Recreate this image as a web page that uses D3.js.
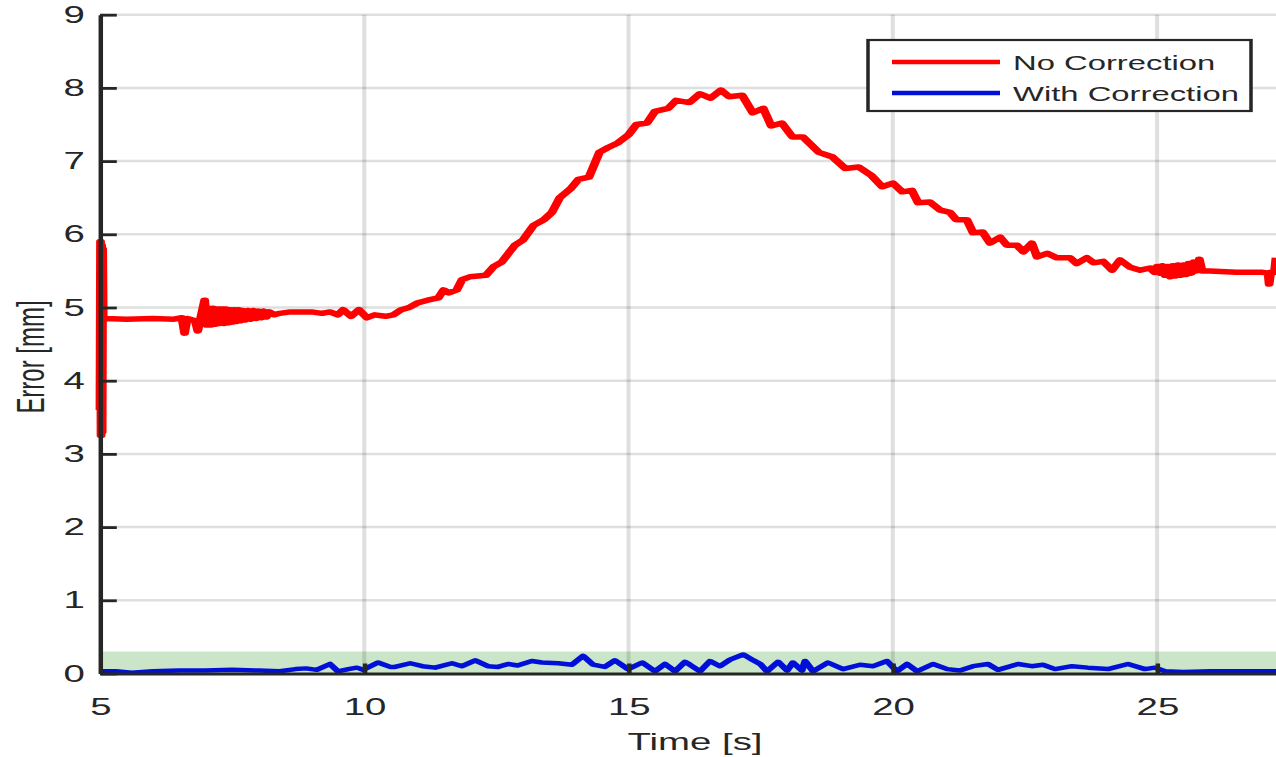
<!DOCTYPE html>
<html>
<head>
<meta charset="utf-8">
<script src="https://cdn.jsdelivr.net/npm/d3@7"></script>
<style>
  body { margin: 0; background: #fff; }
  text { font-family: "Liberation Sans", Arial, Helvetica, sans-serif; fill: #262626; }
</style>
</head>
<body>
<div id="chart"></div>
<script>
// data (time in s, error in mm)
var noCorrT = [5.0, 5.01, 5.02, 5.03, 5.04, 5.05, 5.06, 5.08, 5.1, 5.5, 6.0, 6.4, 6.55,
  6.6, 6.65, 6.8, 6.85, 6.9, 6.98, 7.02, 7.06, 7.1, 7.14, 7.18, 7.22, 7.26, 7.3, 7.34,
  7.38, 7.42, 7.46, 7.5, 7.54, 7.58, 7.62, 7.66, 7.7, 7.75, 7.8, 7.85, 7.9, 7.95, 8.0,
  8.05, 8.1, 8.15, 8.2, 8.3, 8.4, 8.6, 8.8, 9.0, 9.2,
  9.35, 9.5, 9.6, 9.75, 9.9, 10.05, 10.2, 10.4, 10.55, 10.7, 10.85, 11.0, 11.2, 11.4,
  11.5, 11.6, 11.75, 11.85, 12.0, 12.3, 12.45, 12.6, 12.75, 12.85, 13.0, 13.2, 13.4,
  13.55, 13.7, 13.9, 14.05, 14.25, 14.45, 14.6, 14.8, 15.0, 15.15, 15.35, 15.5, 15.75,
  15.9, 16.15, 16.35, 16.55, 16.75, 16.9, 17.15, 17.35, 17.55, 17.7, 17.9, 18.1, 18.3,
  18.6, 18.85, 19.1, 19.35, 19.6, 19.8, 20.0, 20.18, 20.36, 20.48, 20.7, 20.9, 21.08,
  21.2, 21.4, 21.52, 21.7, 21.84, 22.03, 22.16, 22.35, 22.47, 22.63, 22.73, 22.92, 23.1,
  23.35, 23.48, 23.67, 23.8, 23.98, 24.15, 24.3, 24.49, 24.68, 24.87, 24.95, 25.0, 25.05,
  25.1, 25.15, 25.2, 25.25, 25.3, 25.35, 25.4, 25.45, 25.5, 25.55, 25.6, 25.65, 25.7,
  25.75, 25.8, 25.85, 26.0, 26.5, 27.0, 27.1, 27.12, 27.15, 27.22, 27.25];
var noCorrV = [3.6, 5.9, 3.25, 5.85, 3.3, 5.8, 4.85, 4.86, 4.85, 4.84, 4.85, 4.84, 4.86,
  4.65, 4.85, 4.82, 4.68, 4.84, 5.1, 4.76, 4.99, 4.76, 4.99, 4.77, 4.98, 4.78, 4.98, 4.78,
  4.98, 4.79, 4.97, 4.8, 4.97, 4.81, 4.97, 4.82, 4.96, 4.83, 4.96, 4.84, 4.96, 4.85, 4.95,
  4.86, 4.95, 4.87, 4.94, 4.9, 4.92, 4.94, 4.94,
  4.94, 4.92, 4.94, 4.9, 4.97, 4.88, 4.97, 4.86, 4.9, 4.88, 4.9, 4.97, 5.0, 5.06, 5.1,
  5.13, 5.24, 5.2, 5.24, 5.38, 5.42, 5.44, 5.56, 5.62, 5.76, 5.85, 5.92, 6.12, 6.2, 6.3,
  6.5, 6.62, 6.75, 6.78, 7.12, 7.18, 7.25, 7.36, 7.5, 7.52, 7.68, 7.72, 7.83, 7.8, 7.92,
  7.86, 7.97, 7.88, 7.9, 7.66, 7.72, 7.48, 7.52, 7.33, 7.33, 7.12, 7.06, 6.9, 6.92, 6.8,
  6.65, 6.7, 6.58, 6.6, 6.43, 6.44, 6.33, 6.3, 6.2, 6.2, 6.02, 6.03, 5.88, 5.96, 5.85,
  5.85, 5.76, 5.88, 5.69, 5.74, 5.68, 5.68, 5.6, 5.68, 5.61, 5.63, 5.51, 5.65, 5.55, 5.51,
  5.54, 5.48, 5.56, 5.47, 5.57, 5.44, 5.56, 5.42, 5.57, 5.43, 5.58, 5.44, 5.58, 5.45, 5.6,
  5.47, 5.62, 5.5, 5.66, 5.5, 5.5, 5.48, 5.48, 5.47, 5.32, 5.48, 5.48, 5.68];

var withCorrT = [5.0, 5.3, 5.6, 6.0, 6.5, 7.0, 7.5, 8.0, 8.4, 8.7, 8.9, 9.1, 9.35, 9.5,
  9.7, 9.86, 9.98, 10.26, 10.49, 10.58, 10.87, 11.1, 11.34, 11.66, 11.85, 12.1, 12.34,
  12.53, 12.72, 12.9, 13.17, 13.36, 13.67, 13.93, 14.14, 14.33, 14.55, 14.74, 14.99,
  15.26, 15.5, 15.69, 15.88, 16.07, 16.16, 16.35, 16.54, 16.73, 16.92, 17.17, 17.36,
  17.49, 17.62, 17.83, 18.0, 18.11, 18.28, 18.34, 18.49, 18.77, 19.06, 19.38, 19.63,
  19.89, 20.08, 20.27, 20.46, 20.76, 21.03, 21.27, 21.52, 21.8, 21.99, 22.37, 22.63,
  22.84, 23.07, 23.39, 23.69, 24.07, 24.45, 24.77, 24.96, 25.15, 25.5, 26.0, 26.5, 27.25];
var withCorrV = [0.03, 0.03, 0.01, 0.03, 0.04, 0.04, 0.05, 0.04, 0.03, 0.06, 0.07, 0.05,
  0.13, 0.03, 0.06, 0.08, 0.05, 0.15, 0.09, 0.09, 0.14, 0.1, 0.08, 0.14, 0.1, 0.18, 0.1,
  0.09, 0.13, 0.11, 0.17, 0.15, 0.14, 0.12, 0.24, 0.12, 0.09, 0.18, 0.06, 0.15, 0.03,
  0.13, 0.03, 0.16, 0.12, 0.03, 0.17, 0.1, 0.19, 0.26, 0.18, 0.13, 0.03, 0.16, 0.04, 0.15,
  0.04, 0.17, 0.03, 0.15, 0.06, 0.12, 0.1, 0.17, 0.03, 0.13, 0.03, 0.13, 0.06, 0.04, 0.1,
  0.13, 0.05, 0.13, 0.1, 0.12, 0.06, 0.1, 0.08, 0.06, 0.13, 0.06, 0.08, 0.03, 0.02, 0.03,
  0.03, 0.03];

var xTicks = [5, 10, 15, 20, 25];
var yTicks = [0, 1, 2, 3, 4, 5, 6, 7, 8, 9];
var bandRange = [0, 0.3];   // tolerance band
var seriesNames = ["No Correction", "With Correction"];
var seriesColors = ["#ff0000", "#0010d8"];

// the picture is stretched sideways, so draw in a narrower frame and scale x
var SX = 1.6;
var svgWidth = 1276;
var svgHeight = 757;
var innerW = svgWidth / SX;

var svg = d3.select("#chart")
  .append("svg")
  .attr("width", svgWidth)
  .attr("height", svgHeight);

var g = svg.append("g")
  .attr("transform", `scale(${SX},1)`);

var xScale = d3.scaleLinear()
  .domain([5, 27.25])
  .range([100 / SX, innerW]);

var yScale = d3.scaleLinear()
  .domain([0, 9])
  .range([673.5, 14.7]);

// green band
g.append("rect")
  .attr("x", xScale(5))
  .attr("y", yScale(bandRange[1]))
  .attr("width", xScale(27.25) - xScale(5))
  .attr("height", yScale(bandRange[0]) - yScale(bandRange[1]))
  .attr("fill", "#cbe5c9");

// grid
g.append("g").selectAll("line")
  .data(yTicks.filter(d => d > 0))
  .enter().append("line")
  .attr("x1", xScale(5)).attr("x2", xScale(27.25))
  .attr("y1", d => yScale(d)).attr("y2", d => yScale(d))
  .attr("stroke", "#262626").attr("stroke-opacity", 0.15)
  .attr("stroke-width", 2.5);

g.append("g").selectAll("line")
  .data(xTicks.filter(d => d > 5))
  .enter().append("line")
  .attr("x1", d => xScale(d)).attr("x2", d => xScale(d))
  .attr("y1", yScale(9)).attr("y2", yScale(0))
  .attr("stroke", "#262626").attr("stroke-opacity", 0.15)
  .attr("stroke-width", 2.5);

// series
var line = d3.line()
  .x(d => xScale(d[0]))
  .y(d => yScale(d[1]));

var redData = noCorrT.map((t, i) => [t, noCorrV[i]]);
var blueData = withCorrT.map((t, i) => [t, withCorrV[i]]);

g.append("path")
  .datum(blueData)
  .attr("d", line)
  .attr("fill", "none")
  .attr("stroke", seriesColors[1])
  .attr("stroke-width", 4.5)
  .attr("stroke-linejoin", "round");

g.append("path")
  .datum(redData)
  .attr("d", line)
  .attr("fill", "none")
  .attr("stroke", seriesColors[0])
  .attr("stroke-width", 5.5)
  .attr("stroke-linejoin", "round");

// axes
var xAxis = g.append("g")
  .attr("transform", `translate(0, ${yScale(0)})`)
  .call(d3.axisBottom(xScale).tickValues(xTicks).tickSizeInner(-10).tickSizeOuter(0).tickPadding(24));

var yAxis = g.append("g")
  .attr("transform", `translate(${xScale(5)}, 0)`)
  .call(d3.axisLeft(yScale).tickValues(yTicks).tickSizeInner(-10.5).tickSizeOuter(0).tickPadding(9.5));

[xAxis, yAxis].forEach(a => {
  a.select(".domain").attr("stroke", "#262626").attr("stroke-width", 2.8);
  a.selectAll(".tick line").attr("stroke", "#262626").attr("stroke-width", 2.8);
  a.selectAll(".tick text")
    .attr("font-size", 24)
    .attr("font-family", "Liberation Sans, Arial, sans-serif")
    .attr("fill", "#262626");
});
xAxis.selectAll(".tick").filter(d => d === 5).select("line").remove();

// axis titles
g.append("text")
  .attr("x", 695 / SX)
  .attr("y", 750)
  .attr("text-anchor", "middle")
  .attr("font-size", 24)
  .text("Time [s]");

g.append("text")
  .attr("transform", `translate(${44 / SX}, 357) rotate(-90)`)
  .attr("text-anchor", "middle")
  .attr("font-size", 24)
  .text("Error [mm]");

// legend
var legend = g.append("g");
legend.append("rect")
  .attr("x", 868 / SX).attr("y", 40)
  .attr("width", (1251 - 868) / SX).attr("height", 71)
  .attr("fill", "#fff")
  .attr("stroke", "#262626").attr("stroke-width", 2.2);

var legendY = [62, 93];
seriesNames.forEach((name, i) => {
  legend.append("line")
    .attr("x1", 892 / SX).attr("x2", 1000 / SX)
    .attr("y1", legendY[i]).attr("y2", legendY[i])
    .attr("stroke", seriesColors[i]).attr("stroke-width", 4.5);
  legend.append("text")
    .attr("x", 1013 / SX)
    .attr("y", legendY[i] + 8)
    .attr("font-size", 20.5)
    .text(name);
});
</script>
</body>
</html>
